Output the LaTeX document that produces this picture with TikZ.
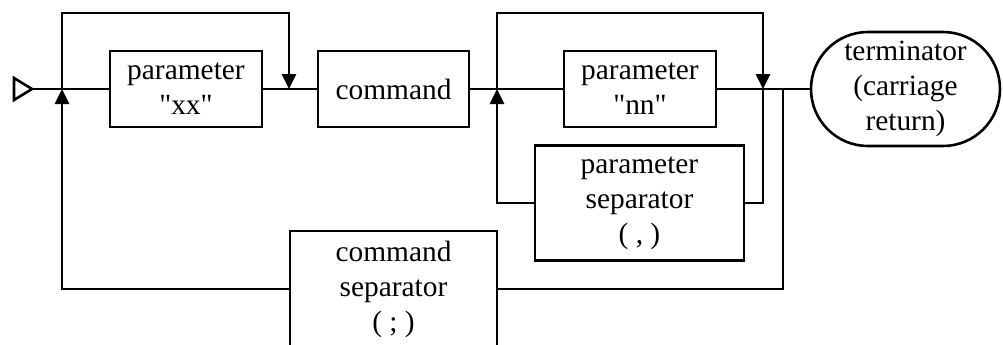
\documentclass[tikz,border=0pt]{standalone}
\usepackage{fontspec}
\setmainfont{Liberation Serif}[Ligatures=TeXOff]
\usetikzlibrary{arrows.meta,shapes.misc}
\begin{document}
\begin{tikzpicture}[x=0.5pt,y=-0.5pt,
  line width=1.3pt,
  blk/.style={draw,rectangle,align=center,inner sep=0pt,font=\fontsize{14.7}{17.5}\selectfont},
  term/.style={draw,rounded rectangle,align=center,inner sep=0pt,font=\fontsize{14.7}{17.5}\selectfont},
  arr/.style={-{Triangle[width=7pt,length=7.5pt]}}]
\useasboundingbox (0,0) rectangle (1003,344);
% start marker
\draw (14,78) -- (14,100) -- (32,89) -- cycle;
\coordinate (start) at (32,89);
% nodes
\node[blk,minimum width=76pt,minimum height=38pt] (px) at (186,89) {parameter\\"xx"};
\node[blk,minimum width=75.5pt,minimum height=38pt] (cmd) at (393.5,89) {command};
\node[blk,minimum width=76pt,minimum height=38pt] (pn) at (640,89) {parameter\\"nn"};
\node[blk,minimum width=104.5pt,minimum height=57.5pt] (ps) at (639.5,203) {parameter\\separator\\( , )};
\node[blk,minimum width=103.5pt,minimum height=58pt] (cs) at (393.5,289) {command\\separator\\( ; )};
\node[term,minimum width=94.5pt,minimum height=57pt] (tm) at (905.5,89) {terminator\\(carriage\\return)};
% junctions
\coordinate (j1) at (62,89);
\coordinate (j2) at (289,89);
\coordinate (j3) at (497,89);
\coordinate (j4) at (763,89);
\coordinate (j5) at (783,89);
% main line
\draw (start) -- (px.west);
\draw (px.east) -- (cmd.west);
\draw (cmd.east) -- (pn.west);
\draw (pn.east) -- (tm.west);
% bypass loops
\draw[arr] (j1) -- (62,13) -| (j2);
\draw[arr] (j3) -- (497,13) -| (j4);
% return loops
\draw[arr] (ps.west) -| (j3);
\draw (ps.east) -| (j4);
\draw (j5) |- (cs.east);
\draw[arr] (cs.west) -| (j1);
\end{tikzpicture}
\end{document}
